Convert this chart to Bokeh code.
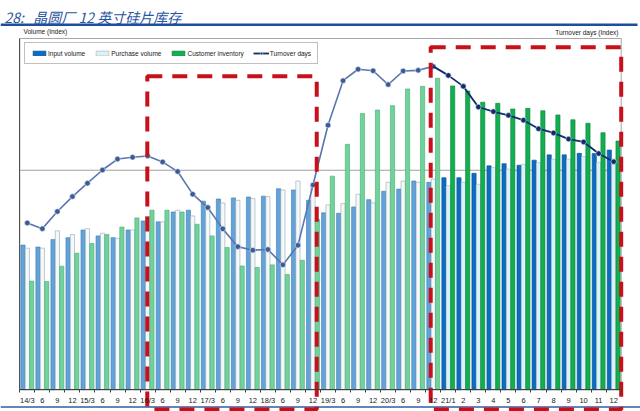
from bokeh.plotting import figure
from bokeh.models import (ColumnDataSource, FixedTicker, Label, Legend, LegendItem,
                          BoxAnnotation)
from bokeh.embed import file_html
from bokeh.resources import INLINE

# ---------------- data (index values) ----------------
periods = ["14/3", "6", "9", "12", "15/3", "6", "9", "12", "16/3", "6", "9", "12",
           "17/3", "6", "9", "12", "18/3", "6", "9", "12", "19/3", "6", "9", "12",
           "20/3", "6", "9", "12", "21/1", "2", "3", "4", "5", "6", "7", "8", "9",
           "10", "11", "12"]

input_volume = [65.9, 65.0, 68.4, 69.3, 72.8, 70.1, 69.3, 72.8, 76.9, 76.5, 81.0, 81.8,
                85.9, 86.9, 87.4, 87.8, 88.2, 91.6, 91.0, 86.3, 80.6, 80.4, 83.3, 86.6,
                90.4, 91.4, 95.1, 94.5, 96.6, 96.6, 98.6, 102.0, 103.0, 102.3, 104.6,
                107.0, 107.0, 107.7, 107.6, 109.2]

purchase_volume = [64.5, 64.5, 72.4, 70.7, 73.4, 71.3, 69.0, 72.8, 78.9, 76.5, 81.8, 79.2,
                   84.1, 85.1, 86.3, 87.1, 88.0, 91.0, 95.1, 92.9, 84.2, 84.8, 89.1, 85.1,
                   94.5, 95.1, 94.5, 96.0, 93.0, 94.5, 93.6, 101.2, 100.5, 102.7, 103.5,
                   105.0, 105.0, 106.2, 103.6, 105.1]

customer_inventory = [49.5, 49.3, 56.3, 62.2, 66.6, 70.7, 74.1, 78.3, 81.8, 81.8, 81.0, 75.4,
                      70.1, 64.8, 56.4, 55.7, 56.9, 52.5, 59.0, 77.7, 97.3, 111.8, 125.8,
                      127.4, 129.4, 137.0, 138.2, 141.9, 138.4, 136.1, 131.0, 130.5, 127.9,
                      128.2, 127.1, 125.2, 123.0, 121.4, 117.1, 113.3]

turnover_days = [76.0, 73.4, 81.2, 88.0, 94.1, 100.1, 105.1, 105.9, 106.5, 103.8, 99.4, 89.1,
                 83.0, 73.3, 65.2, 63.6, 63.9, 56.9, 65.8, 93.3, 120.5, 140.8, 146.0, 145.3,
                 139.0, 145.2, 145.5, 147.3, 143.2, 138.2, 128.8, 126.7, 125.0, 122.8, 118.9,
                 117.0, 114.2, 112.9, 107.6, 103.9]

reference_level = 100          # the grey horizontal reference line
monthly_start = 28             # first monthly period (21/1), drawn in full colour
box_quarters = (8.48, 19.75, 142.8)   # red dashed highlight boxes: left, right, top
box_monthly = (27.33, 40.0, 156.0)
y_max = 160

# ---------------- styling ----------------
W, H = 640, 411
n = len(periods)
FONT = "Liberation Sans"
blue_fill = ["#62A3DA" if i < monthly_start else "#0B6CC4" for i in range(n)]
blue_line = ["#3B78B5" if i < monthly_start else "#074F91" for i in range(n)]
pur_fill = ["#F4FAFB" if i < monthly_start else "#DDF2F8" for i in range(n)]
pur_line = ["#9AA4AA" if i < monthly_start else "#9DB4BE" for i in range(n)]
inv_fill = ["#70D39C" if i < monthly_start else "#10B050" for i in range(n)]
inv_line = ["#4AA874" if i < monthly_start else "#0A7D37" for i in range(n)]

xc = [i + 0.5 for i in range(n)]
bw = 0.28
off = 0.29
src = ColumnDataSource(dict(
    x=xc,
    x_in=[x - off for x in xc],
    x_out=[x + off for x in xc],
    input=input_volume, purchase=purchase_volume, inventory=customer_inventory,
    blue_fill=blue_fill, blue_line=blue_line, pur_fill=pur_fill, pur_line=pur_line,
    inv_fill=inv_fill, inv_line=inv_line,
))

# plot box in pixels: x 19.3..620.7, y 38..389.3 (canvas = whole picture)
px_l, px_r, py_t, py_b = 19.3, 620.7, 38.0, 389.3
ux = (px_r - px_l) / n
uy = (py_b - py_t) / y_max
x_range = (-px_l / ux, n + (W - px_r) / ux)
y_range = (-(H - py_b) / uy, y_max + py_t / uy)

p = figure(width=W, height=H, x_range=x_range, y_range=y_range,
           output_backend="svg", toolbar_location=None,
           min_border_left=0, min_border_right=0, min_border_top=0, min_border_bottom=0)
p.background_fill_color = "white"
p.border_fill_color = "white"
p.outline_line_color = None
p.xgrid.visible = False
p.ygrid.visible = False

# axes drawn at the plot box edges
p.xaxis.fixed_location = 0
p.xaxis.bounds = (0, n)
p.xaxis.ticker = FixedTicker(ticks=xc, minor_ticks=list(range(n + 1)))
p.xaxis.major_label_overrides = {x: lab for x, lab in zip(xc, periods)}
p.xaxis.major_tick_out = 0
p.xaxis.major_tick_in = 0
p.xaxis.major_tick_line_color = None
p.xaxis.minor_tick_out = 3
p.xaxis.minor_tick_in = 0
p.xaxis.minor_tick_line_color = "#404040"
p.xaxis.axis_line_color = "#404040"
p.xaxis.major_label_standoff = 3
p.xaxis.major_label_text_font = FONT
p.xaxis.major_label_text_font_size = "7.5px"
p.xaxis.major_label_text_color = "#202020"
p.yaxis.fixed_location = 0
p.yaxis.bounds = (0, y_max)
p.yaxis.ticker = FixedTicker(ticks=[])
p.yaxis.axis_line_color = "#505050"
p.yaxis.major_tick_line_color = None
p.yaxis.minor_tick_line_color = None

# plot box outline
p.add_layout(BoxAnnotation(left=0, right=n, bottom=0, top=y_max, fill_alpha=0,
                           fill_color=None, line_color="#A6A6A6", line_alpha=1,
                           line_width=1, level="underlay"))

# reference line
p.segment(x0=0, x1=n, y0=reference_level, y1=reference_level, line_color="#A0A0A0",
          line_width=1, level="underlay")

# bars
r_in = p.vbar(x="x_in", top="input", width=bw, source=src, fill_color="blue_fill",
              line_color="blue_line", line_width=0.6)
r_pur = p.vbar(x="x", top="purchase", width=bw, source=src, fill_color="pur_fill",
               line_color="pur_line", line_width=0.6)
r_inv = p.vbar(x="x_out", top="inventory", width=bw, source=src, fill_color="inv_fill",
               line_color="inv_line", line_width=0.6)

# red dashed highlight boxes
box_bottom = -(409 - py_b) / uy
for (l, r, t) in (box_quarters, box_monthly):
    p.add_layout(BoxAnnotation(left=l, right=r, top=t, bottom=box_bottom, fill_alpha=0,
                               fill_color=None, line_color="#C8101A", line_alpha=1,
                               line_width=4, line_dash="15 10", level="glyph"))

# turnover line: quarterly part faded, monthly part in full colour
k = monthly_start - 1
p.line(x=xc[:k + 1], y=turnover_days[:k + 1], line_color="#5A76AE", line_width=1.6)
p.scatter(x=xc[:k + 1], y=turnover_days[:k + 1], size=5.5, fill_color="#3A5A98",
          line_color="#E4E9F2", line_width=0.6)
r_line = p.line(x=xc[k:], y=turnover_days[k:], line_color="#0F2D6E", line_width=1.8)
r_dot = p.scatter(x=xc[k + 1:], y=turnover_days[k + 1:], size=5.5, fill_color="#0F2D6E",
                  line_color="#E4E9F2", line_width=0.6)

# legend (location = bottom-left corner, measured from the bottom-left of the canvas)
legend = Legend(items=[
    LegendItem(label="Input volume", renderers=[r_in], index=30),
    LegendItem(label="Purchase volume", renderers=[r_pur], index=30),
    LegendItem(label="Customer inventory", renderers=[r_inv], index=30),
    LegendItem(label="Turnover days", renderers=[r_line, r_dot]),
], orientation="horizontal", location=(24, H - 64), margin=0, padding=6, spacing=9,
    glyph_width=16, glyph_height=6, label_standoff=1, label_height=8,
    label_text_font=FONT, label_text_font_size="6.5px", label_text_color="#202020",
    border_line_color="#808080", border_line_width=1, background_fill_color="white",
    background_fill_alpha=1)
p.add_layout(legend, "center")

# texts
p.add_layout(Label(x=23, y=H - 31, x_units="screen", y_units="screen",
                   text="Volume (Index)", text_font=FONT, text_font_size="6.5px",
                   text_baseline="middle", text_color="#202020"))
p.add_layout(Label(x=618, y=H - 31.5, x_units="screen", y_units="screen",
                   text="Turnover days (Index)", text_font=FONT, text_font_size="6.5px",
                   text_baseline="middle", text_align="right", text_color="#202020"))
p.add_layout(Label(x=4, y=H - 16, x_units="screen", y_units="screen",
                   text="28:\u00a0\u00a0\u00a0晶圆厂\u00a012\u00a0英寸硅片库存",
                   text_font="Noto Sans CJK SC",
                   text_font_style="italic", text_font_size="14px", text_color="#2B55A0",
                   text_baseline="alphabetic"))
# blue rules under the title and along the bottom
p.add_layout(BoxAnnotation(left=0, right=637, top=H - 23, bottom=H - 25.5,
                           left_units="screen", right_units="screen", top_units="screen",
                           bottom_units="screen", fill_color="#1F4E9A", fill_alpha=1,
                           line_color=None, level="underlay"))
p.add_layout(BoxAnnotation(left=0, right=W, top=H - 405.8, bottom=H - 407.3,
                           left_units="screen", right_units="screen", top_units="screen",
                           bottom_units="screen", fill_color="#2F5DA8", fill_alpha=1,
                           line_color=None, level="underlay"))

open("out.html", "w").write(file_html(p, INLINE))
